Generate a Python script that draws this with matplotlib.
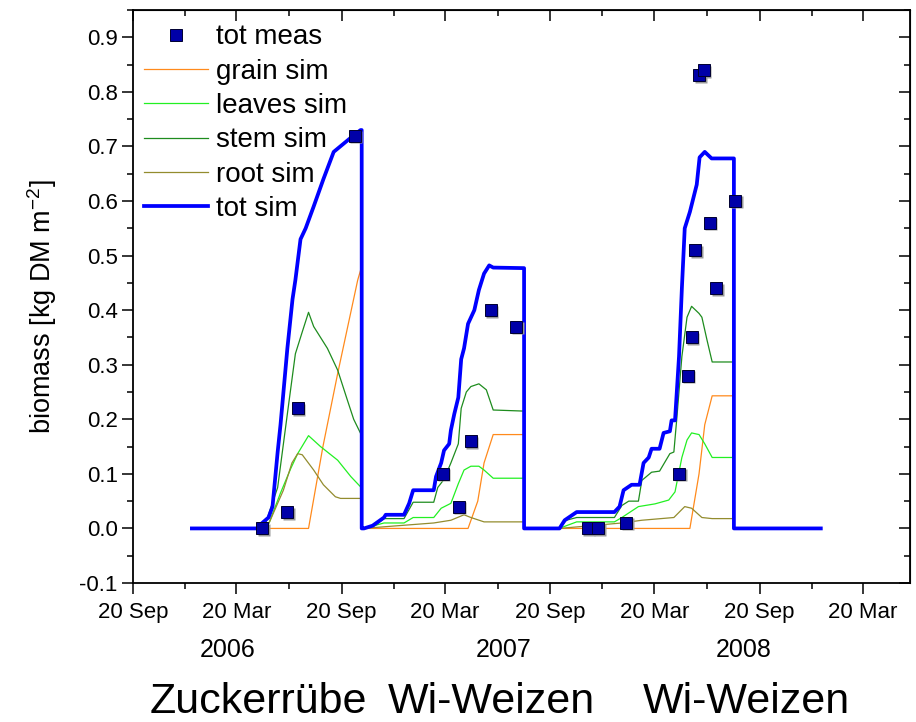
import numpy as np
import matplotlib
matplotlib.use("Agg")
import matplotlib.pyplot as plt
import matplotlib.dates as mdates
from matplotlib.ticker import MultipleLocator, NullFormatter
from matplotlib.transforms import offset_copy

plt.rcParams["font.family"] = ["Liberation Sans", "DejaVu Sans"]
plt.rcParams["mathtext.default"] = "regular"

START = np.datetime64("2006-01-01")

# ── simulated biomass (days since 1 Jan 2006, kg DM m-2) ─────────────────────
tot_t = [0, 114, 123, 134, 141, 150, 155, 167, 176, 181, 190, 199, 213, 230, 248, 278, 295, 297, 297,
         301, 316, 336, 339, 371, 380, 387, 423, 427, 436, 441, 450, 453, 459, 466, 471, 476, 483, 494,
         502, 511, 520, 527, 581, 581,
         643, 652, 659, 673, 739, 748, 755, 769, 783, 790, 799, 804, 818, 825, 836, 839, 845, 852, 857,
         862, 871, 883, 888, 897, 904, 909, 948, 948, 1100]
tot_v = [0, 0, 0.01, 0.02, 0.04, 0.14, 0.19, 0.33, 0.42, 0.455, 0.53, 0.55, 0.59, 0.64, 0.69, 0.716, 0.73, 0.73, 0,
         0, 0.005, 0.02, 0.025, 0.025, 0.046, 0.07, 0.07, 0.095, 0.12, 0.143, 0.155, 0.18, 0.21, 0.24, 0.31, 0.33,
         0.375, 0.40, 0.437, 0.467, 0.482, 0.478, 0.477, 0,
         0, 0.015, 0.02, 0.03, 0.03, 0.04, 0.07, 0.08, 0.08, 0.12, 0.13, 0.146, 0.146, 0.175, 0.178, 0.198, 0.198,
         0.315, 0.44, 0.55, 0.58, 0.63, 0.68, 0.69, 0.683, 0.678, 0.678, 0, 0]

stem_t = [0, 120, 129, 150, 167, 181, 193, 204, 213, 237, 255, 272, 283, 297, 297,
          301, 320, 336, 371, 387, 423, 430, 441, 453, 466, 471, 480, 488, 502, 515, 527, 581, 581,
          643, 655, 673, 739, 752, 764, 781, 787, 804, 818, 836, 843, 848, 857, 866, 874, 887, 892, 901,
          910, 948, 948, 1100]
stem_v = [0, 0, 0.01, 0.075, 0.21, 0.32, 0.36, 0.396, 0.37, 0.33, 0.29, 0.235, 0.20, 0.17, 0,
          0, 0.005, 0.018, 0.018, 0.048, 0.048, 0.075, 0.09, 0.12, 0.155, 0.22, 0.25, 0.26, 0.265, 0.254,
          0.217, 0.215, 0,
          0, 0.015, 0.02, 0.02, 0.042, 0.05, 0.05, 0.088, 0.103, 0.105, 0.137, 0.14, 0.2, 0.315, 0.387,
          0.407, 0.394, 0.387, 0.345, 0.305, 0.305, 0, 0]

leaves_t = [0, 120, 135, 155, 173, 185, 204, 225, 255, 278, 297, 297,
            301, 336, 371, 387, 423, 436, 453, 466, 476, 488, 502, 511, 527, 581, 581,
            643, 655, 673, 739, 752, 781, 810, 834, 845, 857, 866, 874, 887, 897, 910, 948, 948, 1100]
leaves_v = [0, 0, 0.01, 0.065, 0.11, 0.137, 0.17, 0.15, 0.125, 0.095, 0.074, 0,
            0, 0.01, 0.01, 0.02, 0.02, 0.037, 0.046, 0.082, 0.107, 0.114, 0.114, 0.107, 0.092, 0.092, 0,
            0, 0.005, 0.012, 0.012, 0.02, 0.04, 0.045, 0.052, 0.067, 0.13, 0.162, 0.175, 0.172, 0.155,
            0.13, 0.13, 0, 0]

root_t = [0, 120, 135, 160, 175, 185, 193, 213, 230, 251, 260, 297, 297,
          301, 336, 423, 453, 476, 488, 511, 581, 581,
          643, 752, 787, 843, 862, 874, 892, 910, 948, 948, 1100]
root_v = [0, 0, 0.01, 0.07, 0.12, 0.137, 0.135, 0.107, 0.08, 0.058, 0.055, 0.055, 0,
          0, 0.003, 0.01, 0.015, 0.025, 0.02, 0.012, 0.012, 0,
          0, 0.01, 0.015, 0.02, 0.04, 0.037, 0.02, 0.018, 0.018, 0, 0]

grain_t = [0, 204, 229, 255, 290, 297, 297,
           301, 483, 500, 511, 527, 581, 581,
           643, 871, 887, 897, 910, 948, 948, 1100]
grain_v = [0, 0, 0.149, 0.284, 0.455, 0.48, 0,
           0, 0, 0.05, 0.12, 0.172, 0.172, 0,
           0, 0, 0.10, 0.19, 0.243, 0.243, 0, 0]

# ── measured total biomass ───────────────────────────────────────────────────
meas_t = [123, 167, 185, 285,
          439, 467, 488, 523, 567,
          692, 711, 760, 852, 867, 874, 880, 887, 895, 906, 917, 950]
meas_v = [0.0, 0.03, 0.22, 0.72,
          0.10, 0.04, 0.16, 0.40, 0.37,
          0.0, 0.0, 0.01, 0.10, 0.28, 0.35, 0.51, 0.83, 0.84, 0.56, 0.44, 0.60]

year_labels = ["2006", "2007", "2008"]
crops = ["Zuckerrübe", "Wi-Weizen", "Wi-Weizen"]


def dates(t):
    return START + np.array(t).astype("timedelta64[D]")


W, H = 916, 722
fig = plt.figure(figsize=(W / 100, H / 100), dpi=100)
ax = fig.add_axes([133 / W, 1 - 583 / H, 777 / W, 573 / H])

ax.plot(dates(grain_t), grain_v, color="#ff8a1c", lw=0.9, label="grain sim", zorder=3)
ax.plot(dates(leaves_t), leaves_v, color="#22f022", lw=0.9, label="leaves sim", zorder=3)
ax.plot(dates(stem_t), stem_v, color="#1e8c1e", lw=0.9, label="stem sim", zorder=3)
ax.plot(dates(root_t), root_v, color="#938c2e", lw=0.9, label="root sim", zorder=3)
ax.plot(dates(tot_t), tot_v, color="#0000ff", lw=2.7, label="tot sim", zorder=4)

# soft grey shadow under the squares, then the squares
shadow = offset_copy(ax.transData, fig=fig, x=1.5, y=-1.5, units="dots")
ax.plot(dates(meas_t), meas_v, ls="none", marker="s", ms=8.3, mfc="#9a9a9a", mec="none",
        transform=shadow, zorder=5)
ax.plot(dates(meas_t), meas_v, ls="none", marker="s", ms=8.3, mfc="#0000a8", mec="#000030",
        mew=0.7, label="tot meas", zorder=6)

ax.set_ylim(-0.1, 0.95)
x0 = np.datetime64("2005-09-20")
ax.set_xlim(x0, x0 + np.timedelta64(1359, "D"))
ax.yaxis.set_major_locator(MultipleLocator(0.1))
ax.yaxis.set_minor_locator(MultipleLocator(0.05))
ax.yaxis.set_major_formatter(plt.FuncFormatter(lambda v, p: f"{v:.1f}"))
ax.xaxis.set_major_locator(mdates.MonthLocator(bymonth=[3, 9], bymonthday=20))
ax.xaxis.set_minor_locator(mdates.MonthLocator(bymonth=[6, 12], bymonthday=20))
ax.xaxis.set_major_formatter(mdates.DateFormatter("%d %b"))
ax.tick_params(which="both", direction="out", width=1.1, labelsize=16, top=False, right=False)
ax.tick_params(which="major", length=8)
ax.tick_params(which="minor", length=4.3)
ax.tick_params(axis="x", pad=6)
ax.tick_params(axis="y", pad=3)
for s in ax.spines.values():
    s.set_linewidth(1.3)

# inward ticks on top and right
top = ax.secondary_xaxis("top")
top.xaxis.set_major_locator(mdates.MonthLocator(bymonth=[3, 9], bymonthday=20))
top.xaxis.set_minor_locator(mdates.MonthLocator(bymonth=[6, 12], bymonthday=20))
top.xaxis.set_major_formatter(NullFormatter())
top.tick_params(which="both", direction="in", width=1.1)
top.tick_params(which="major", length=8)
top.tick_params(which="minor", length=4.3)
right = ax.secondary_yaxis("right")
right.yaxis.set_major_locator(MultipleLocator(0.1))
right.yaxis.set_minor_locator(MultipleLocator(0.05))
right.yaxis.set_major_formatter(NullFormatter())
right.tick_params(which="both", direction="in", width=1.1)
right.tick_params(which="major", length=8)
right.tick_params(which="minor", length=4.3)

handles, labels = ax.get_legend_handles_labels()
order = ["tot meas", "grain sim", "leaves sim", "stem sim", "root sim", "tot sim"]
hmap = dict(zip(labels, handles))
ax.legend([hmap[k] for k in order], order, loc="upper left", bbox_to_anchor=(0.014, 0.975),
          frameon=False, fontsize=20, handlelength=2.3, handletextpad=0.3, labelspacing=0.3,
          borderpad=0, borderaxespad=0)

fig.text(42 / W, 1 - 307 / H, "biomass [kg DM m$^{-2}$]", rotation=90, ha="center", va="center",
         fontsize=19.5)

for xp, lab in zip([228, 504, 744], year_labels):
    fig.text(xp / W, 1 - 650 / H, lab, ha="center", va="center", fontsize=18)
for xp, lab in zip([150, 388, 643], crops):
    fig.text(xp / W, 1 - 713 / H, lab, ha="left", va="baseline", fontsize=31)

fig.savefig("out.png", dpi=100)
